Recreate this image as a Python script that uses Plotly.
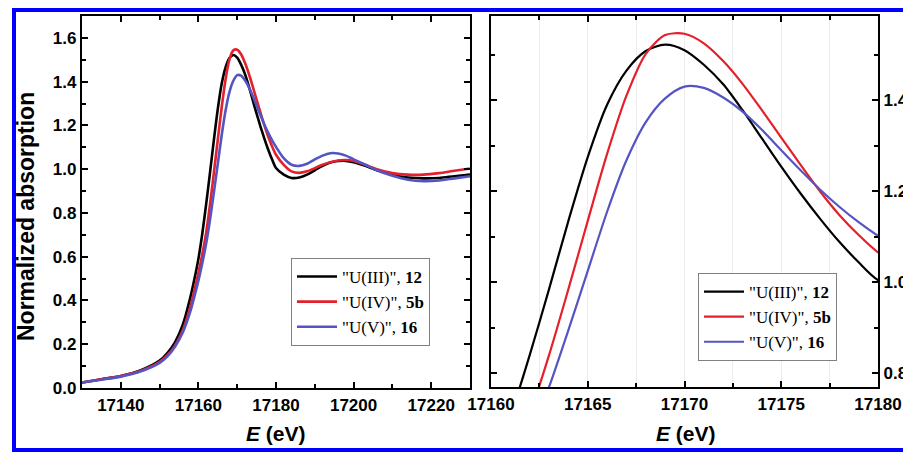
import plotly.graph_objects as go

# ---- data ----
energy = [17130, 17135, 17140, 17145, 17150, 17152, 17154, 17156, 17158, 17159,
          17160, 17161, 17162, 17163, 17164, 17165, 17166, 17167, 17168, 17169,
          17170, 17171, 17172, 17173, 17174, 17175, 17176, 17177, 17178, 17179,
          17180, 17182, 17184, 17186, 17188, 17190, 17192, 17194, 17196, 17198,
          17200, 17203, 17206, 17210, 17214, 17218, 17222, 17226, 17230]

u3_12 = [0.025, 0.040, 0.055, 0.080, 0.125, 0.160, 0.210, 0.290, 0.420, 0.500,
         0.590, 0.705, 0.840, 0.985, 1.135, 1.275, 1.390, 1.465, 1.508, 1.522,
         1.510, 1.478, 1.435, 1.378, 1.316, 1.254, 1.195, 1.140, 1.089, 1.044,
         1.005, 0.975, 0.960, 0.962, 0.975, 0.995, 1.015, 1.030, 1.037, 1.038,
         1.032, 1.015, 0.995, 0.975, 0.962, 0.958, 0.960, 0.968, 0.975]

u4_5b = [0.025, 0.040, 0.055, 0.078, 0.120, 0.150, 0.195, 0.265, 0.375, 0.450,
         0.525, 0.610, 0.710, 0.840, 0.985, 1.135, 1.282, 1.410, 1.502, 1.543,
         1.546, 1.525, 1.486, 1.436, 1.378, 1.318, 1.258, 1.200, 1.148, 1.104,
         1.066, 1.020, 0.990, 0.983, 0.990, 1.005, 1.020, 1.032, 1.040, 1.042,
         1.037, 1.020, 1.000, 0.982, 0.975, 0.975, 0.982, 0.993, 1.003]

u5_16 = [0.025, 0.038, 0.052, 0.075, 0.115, 0.145, 0.190, 0.255, 0.355, 0.420,
         0.490, 0.570, 0.660, 0.770, 0.895, 1.025, 1.155, 1.268, 1.352, 1.404,
         1.430, 1.427, 1.406, 1.375, 1.335, 1.290, 1.246, 1.204, 1.166, 1.132,
         1.102, 1.050, 1.020, 1.015, 1.025, 1.045, 1.062, 1.073, 1.072, 1.062,
         1.045, 1.020, 0.995, 0.970, 0.952, 0.945, 0.948, 0.958, 0.968]

series_names = ['"U(III)", <b>12</b>', '"U(IV)", <b>5b</b>', '"U(V)", <b>16</b>']
series_values = [u3_12, u4_5b, u5_16]
series_colors = ["#000000", "#e3202c", "#5454c2"]

# tick labels
left_x_ticks = [17140, 17160, 17180, 17200, 17220]
left_y_ticks = [0.0, 0.2, 0.4, 0.6, 0.8, 1.0, 1.2, 1.4, 1.6]
right_x_ticks = [17160, 17165, 17170, 17175, 17180]
right_y_ticks = [0.8, 1.0, 1.2, 1.4]

# the page margin is removed (post_script) so the figure fills the window
W, H = 903, 452
def px(x):
    return x / W
def py(y):
    return 1 - y / H

fig = go.Figure()
for name, vals, col in zip(series_names, series_values, series_colors):
    fig.add_trace(go.Scatter(x=energy, y=vals, name=name, mode="lines",
                             line=dict(color=col, width=2.6, shape="spline", smoothing=0.8),
                             xaxis="x", yaxis="y", legend="legend"))
for name, vals, col in zip(series_names, series_values, series_colors):
    fig.add_trace(go.Scatter(x=energy, y=vals, name=name, mode="lines",
                             line=dict(color=col, width=2.2, shape="spline", smoothing=0.8),
                             xaxis="x2", yaxis="y2", legend="legend2"))

tickfont = dict(family="Liberation Sans, Arial", size=17, color="black")
axis_common = dict(showline=True, linecolor="black", linewidth=2.2, mirror="ticks",
                   ticks="inside", ticklen=6, tickwidth=2, tickcolor="black",
                   tickfont=tickfont, zeroline=False, fixedrange=True,
                   automargin=False, tickmode="array")

def bold(vals, fmt):
    return ["<b>" + fmt.format(v) + "</b>" for v in vals]

legend_common = dict(xanchor="left", yanchor="top", bgcolor="white",
                     bordercolor="#808080", borderwidth=1,
                     font=dict(family="Liberation Serif, Times New Roman", size=17, color="black"),
                     tracegroupgap=0, itemwidth=40)

minor_common = dict(ticks="inside", ticklen=4, tickwidth=2, tickcolor="black")

fig.update_layout(
    template="plotly_white",
    width=W, height=H,
    margin=dict(l=0, r=0, t=0, b=0),
    paper_bgcolor="white", plot_bgcolor="white",
    showlegend=True,
    xaxis=dict(domain=[px(82), px(470)], range=[17130, 17230],
               tickvals=left_x_ticks, ticktext=bold(left_x_ticks, "{:d}"),
               showgrid=False, anchor="y",
               minor=dict(dtick=10, tick0=17130, showgrid=False, **minor_common),
               **axis_common),
    yaxis=dict(domain=[py(388), py(16)], range=[0, 1.70],
               tickvals=left_y_ticks, ticktext=bold(left_y_ticks, "{:.1f}"),
               showgrid=False, anchor="x",
               minor=dict(dtick=0.1, tick0=0, showgrid=False, **minor_common),
               **axis_common),
    xaxis2=dict(domain=[px(491), px(878)], range=[17160, 17180],
                tickvals=right_x_ticks, ticktext=bold(right_x_ticks, "{:d}"),
                showgrid=True, gridcolor="#ececec", gridwidth=1, anchor="y2",
                minor=dict(dtick=2.5, tick0=17160, showgrid=True, gridcolor="#ececec", gridwidth=1,
                           **minor_common),
                **axis_common),
    yaxis2=dict(domain=[py(387), py(16)], range=[0.77, 1.585],
                tickvals=right_y_ticks, ticktext=bold(right_y_ticks, "{:.1f}"),
                showgrid=False, anchor="x2", side="right",
                minor=dict(dtick=0.1, tick0=0.8, showgrid=False, **minor_common),
                **axis_common),
    legend=dict(x=px(291), y=py(258), **legend_common),
    legend2=dict(x=px(698), y=py(273), **legend_common),
)

title_font = dict(family="Liberation Sans, Arial", size=21, color="black")
fig.add_annotation(text="<b>Normalized absorption</b>", x=px(26), y=py(217), xref="paper", yref="paper",
                   textangle=-90, showarrow=False, font=dict(family="Liberation Sans, Arial", size=23, color="black"),
                   xanchor="center", yanchor="middle")
fig.add_annotation(text="<b><i>E</i> (eV)</b>", x=px(276), y=py(433), xref="paper", yref="paper",
                   showarrow=False, font=title_font, xanchor="center", yanchor="middle")
fig.add_annotation(text="<b><i>E</i> (eV)</b>", x=px(686), y=py(433), xref="paper", yref="paper",
                   showarrow=False, font=title_font, xanchor="center", yanchor="middle")

# blue frame around the figure
fig.add_shape(type="rect", xref="paper", yref="paper",
              x0=px(14), x1=px(1000), y0=py(450), y1=py(10),
              line=dict(color="#0000ff", width=4), fillcolor="rgba(0,0,0,0)", layer="above")

fig.write_html("out.html",
               config={"displayModeBar": False},
               post_script="document.body.style.margin='0px'; document.body.style.overflow='hidden';")
